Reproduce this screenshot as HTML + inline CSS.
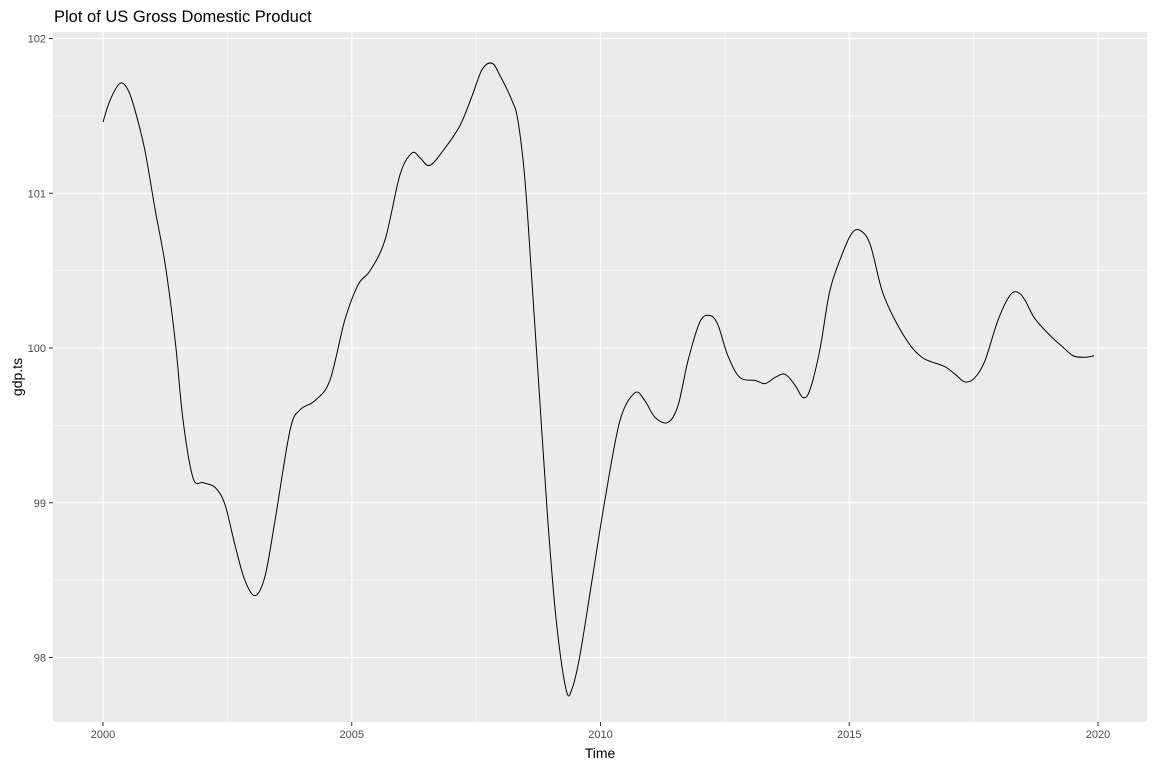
<!DOCTYPE html>
<html><head><meta charset="utf-8"><style>
body{margin:0;background:#fff;}
svg{display:block;font-family:"Liberation Sans",sans-serif;}
</style></head><body>
<svg id="chart" width="1152" height="768">
<text x="54" y="22" font-size="16.5" fill="#000">Plot of US Gross Domestic Product</text>
<rect x="53" y="32" width="1094" height="690" fill="#ebebeb"/>
<g id="grid"></g>
<g id="axes"></g>
<text x="600" y="758" font-size="14" text-anchor="middle" fill="#000">Time</text>
<text transform="translate(22,377) rotate(-90)" font-size="14" text-anchor="middle" fill="#000">gdp.ts</text>
</svg>
<script>
const years=[2000.00,2000.14,2000.34,2000.50,2000.64,2000.84,2001.05,2001.25,2001.45,2001.61,2001.81,2002.01,2002.25,2002.45,2002.65,2002.85,2003.06,2003.26,2003.46,2003.76,2003.96,2004.26,2004.56,2004.86,2005.13,2005.37,2005.67,2005.97,2006.21,2006.37,2006.57,2006.87,2007.18,2007.42,2007.62,2007.82,2007.98,2008.22,2008.34,2008.48,2008.62,2008.78,2008.94,2009.11,2009.31,2009.43,2009.59,2009.83,2010.09,2010.39,2010.69,2010.89,2011.10,2011.36,2011.56,2011.76,2012.00,2012.20,2012.36,2012.56,2012.80,2013.11,2013.31,2013.51,2013.71,2013.91,2014.07,2014.21,2014.41,2014.61,2014.85,2015.05,2015.22,2015.42,2015.66,2015.92,2016.22,2016.46,2016.66,2016.92,2017.13,2017.33,2017.53,2017.73,2017.99,2018.23,2018.39,2018.53,2018.73,2019.04,2019.28,2019.50,2019.74,2019.92];
const gdp=[101.46,101.60,101.71,101.67,101.54,101.28,100.89,100.54,100.05,99.53,99.16,99.13,99.10,98.99,98.73,98.50,98.40,98.53,98.89,99.47,99.60,99.66,99.79,100.18,100.41,100.50,100.70,101.12,101.26,101.23,101.18,101.29,101.44,101.63,101.80,101.84,101.76,101.60,101.47,101.09,100.44,99.66,98.89,98.24,97.79,97.80,98.02,98.50,99.02,99.53,99.71,99.66,99.55,99.52,99.63,99.92,100.17,100.21,100.15,99.95,99.81,99.79,99.77,99.81,99.83,99.76,99.68,99.73,99.99,100.37,100.60,100.74,100.76,100.67,100.37,100.18,100.02,99.94,99.91,99.88,99.83,99.78,99.81,99.92,100.18,100.34,100.36,100.31,100.19,100.08,100.01,99.95,99.94,99.95];
const xTicks=[2000,2005,2010,2015,2020];
const yTicks=[98,99,100,101,102];
const NS='http://www.w3.org/2000/svg';
const X=v=>103+(v-2000)*49.75;
const Y=v=>348-(v-100)*154.75;
const grid=document.getElementById('grid'), axes=document.getElementById('axes'), svg=document.getElementById('chart');
function mk(t,a,p){const e=document.createElementNS(NS,t);for(const k in a)e.setAttribute(k,a[k]);p.appendChild(e);return e;}
for(let i=0;i<xTicks.length-1;i++){const m=(xTicks[i]+xTicks[i+1])/2;
 const l=mk('line',{x1:X(m),x2:X(m),y1:32,y2:722,stroke:'#fff','stroke-width':0.6},grid);
 
 }
for(let i=0;i<yTicks.length;i++){const m=yTicks[i]-0.5;if(Y(m)<722){
 const l=mk('line',{x1:53,x2:1147,y1:Y(m),y2:Y(m),stroke:'#fff','stroke-width':0.6},grid);
 
 }}
xTicks.forEach(v=>{
 const l=mk('line',{x1:X(v),x2:X(v),y1:32,y2:722,stroke:'#fff','stroke-width':1.2},grid);
 
 
 mk('line',{x1:X(v),x2:X(v),y1:722,y2:726,stroke:'#333'},axes);
 const t=mk('text',{x:X(v),y:738,'font-size':11,'text-anchor':'middle',fill:'#4d4d4d'},axes);t.textContent=v;
 
 });
yTicks.forEach(v=>{
 const l=mk('line',{x1:53,x2:1147,y1:Y(v),y2:Y(v),stroke:'#fff','stroke-width':1.2},grid);
 
 
 mk('line',{x1:49,x2:53,y1:Y(v),y2:Y(v),stroke:'#333'},axes);
 const t=mk('text',{x:46,y:Y(v)+4,'font-size':11,'text-anchor':'end',fill:'#4d4d4d'},axes);t.textContent=v;
 
 });
// smooth catmull-rom path
const pts=years.map((y,i)=>[X(y),Y(gdp[i])]);
let d='M'+pts[0][0]+','+pts[0][1];
for(let i=0;i<pts.length-1;i++){const p0=pts[Math.max(0,i-1)],p1=pts[i],p2=pts[i+1],p3=pts[Math.min(pts.length-1,i+2)];
 d+=' C'+(p1[0]+(p2[0]-p0[0])/6)+','+(p1[1]+(p2[1]-p0[1])/6)+' '+(p2[0]-(p3[0]-p1[0])/6)+','+(p2[1]-(p3[1]-p1[1])/6)+' '+p2[0]+','+p2[1];}
const path=mk('path',{d:d,fill:'none',stroke:'#000','stroke-width':1},svg);


</script>
</body></html>
